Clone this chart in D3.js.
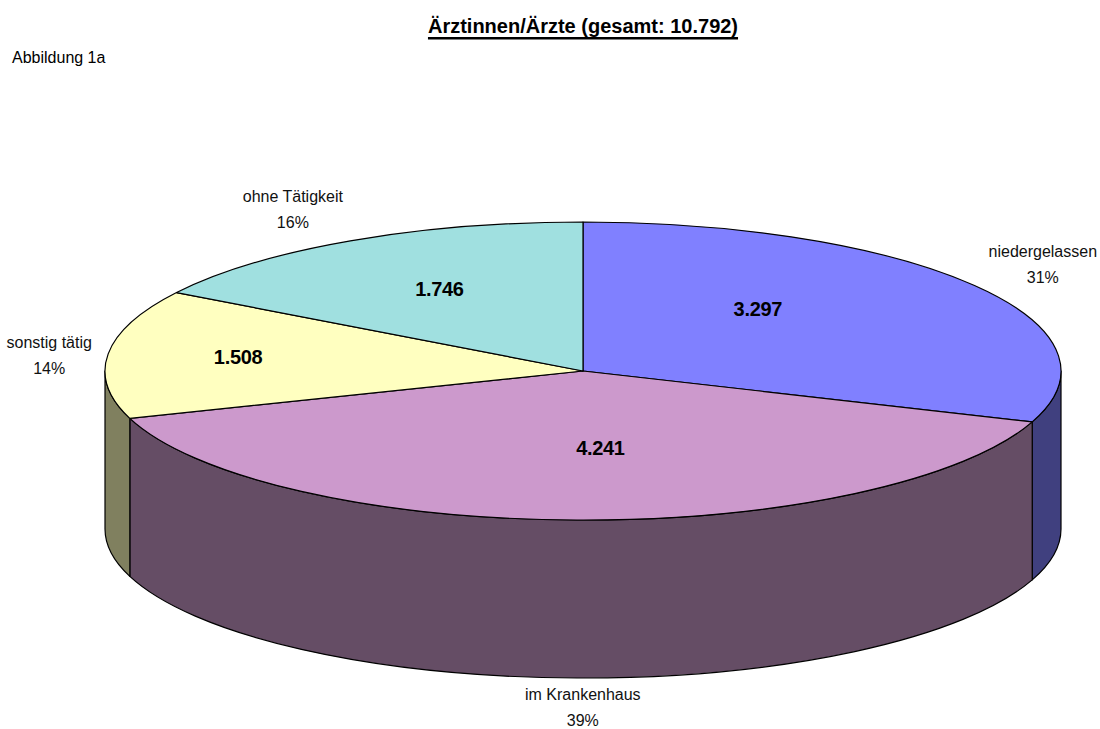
<!DOCTYPE html>
<html>
<head>
<meta charset="utf-8">
<script src="https://cdn.jsdelivr.net/npm/d3@7"></script>
<style>
  body { margin: 0; background: #fff; }
  text { font-family: "Liberation Sans", Arial, sans-serif; }
</style>
</head>
<body>
<div id="chart"></div>
<script>
// Data
var categories = ["niedergelassen", "im Krankenhaus", "sonstig tätig", "ohne Tätigkeit"];
var values = [3297, 4241, 1508, 1746];
var topColors = ["#8080FF", "#CC99CC", "#FFFFC0", "#A0E0E0"];
var sideColors = ["#40407F", "#654D65", "#80805F", "#50706F"];

var svgWidth = 1100;
var svgHeight = 729;

// ellipse geometry of the tilted pie
var cx = 583, cy = 371;
var rx = 478, ry = 149;
var depth = 158;

// label nudges (px) so labels sit where Excel put them
var outerNudge = [[-10, -7], [7, -15], [36, -2], [-11, -6]];
var innerNudge = [[-60, -11], [21, -12], [-60, -4], [-4, -4]];

var de = d3.formatLocale({decimal: ",", thousands: ".", grouping: [3], currency: ["", "€"]});
var fmtNum = de.format(",d");
var fmtPct = de.format(".0%");

var total = d3.sum(values);

var svg = d3.select("#chart")
    .append("svg")
    .attr("width", svgWidth)
    .attr("height", svgHeight);

// Title with a heavy underline
var title = svg.append("text")
    .attr("x", cx)
    .attr("y", 33)
    .attr("text-anchor", "middle")
    .style("font-size", "20px")
    .style("font-weight", "bold")
    .text("Ärztinnen/Ärzte (gesamt: " + fmtNum(total) + ")");

var tb = title.node().getBBox();
svg.append("rect")
    .attr("x", tb.x)
    .attr("y", 37)
    .attr("width", tb.width)
    .attr("height", 2.5)
    .style("fill", "#000");

svg.append("text")
    .attr("x", 12)
    .attr("y", 63)
    .style("font-size", "16px")
    .text("Abbildung 1a");

var pie = d3.pie()
    .sort(null)
    .value(d => d)
    .startAngle(0)
    .endAngle(2 * Math.PI);

var arcs = pie(values);

// point on the top ellipse, angle clockwise from 12 o'clock
function pt(a, dy) {
    return [cx + rx * Math.sin(a), cy - ry * Math.cos(a) + (dy || 0)];
}

function topPath(d) {
    var p0 = pt(d.startAngle), p1 = pt(d.endAngle);
    var large = (d.endAngle - d.startAngle) > Math.PI ? 1 : 0;
    return "M" + cx + "," + cy +
        "L" + p0 + "A" + rx + "," + ry + " 0 " + large + " 1 " + p1 + "Z";
}

function sidePath(d) {
    var s = Math.max(d.startAngle, Math.PI / 2);
    var e = Math.min(d.endAngle, 3 * Math.PI / 2);
    if (s >= e) return null;
    var a = pt(s), b = pt(e), b2 = pt(e, depth), a2 = pt(s, depth);
    return "M" + a + "A" + rx + "," + ry + " 0 0 1 " + b +
        "L" + b2 + "A" + rx + "," + ry + " 0 0 0 " + a2 + "Z";
}

var chartGroup = svg.append("g");

// sides first
chartGroup.selectAll("path.side")
    .data(arcs.filter(d => sidePath(d)))
    .enter()
    .append("path")
    .attr("class", "side")
    .attr("d", sidePath)
    .style("fill", d => sideColors[d.index])
    .style("stroke", "#000")
    .style("stroke-width", 1.2)
    .style("stroke-linejoin", "round");

// tops
chartGroup.selectAll("path.top")
    .data(arcs)
    .enter()
    .append("path")
    .attr("class", "top")
    .attr("d", topPath)
    .style("fill", d => topColors[d.index])
    .style("stroke", "#000")
    .style("stroke-width", 1.2)
    .style("stroke-linejoin", "round");

function mid(d) { return (d.startAngle + d.endAngle) / 2; }

// values inside the slices
chartGroup.selectAll("text.value")
    .data(arcs)
    .enter()
    .append("text")
    .attr("class", "value")
    .attr("x", d => cx + rx * 0.6 * Math.sin(mid(d)) + innerNudge[d.index][0])
    .attr("y", d => cy - ry * 0.6 * Math.cos(mid(d)) + innerNudge[d.index][1])
    .attr("dy", "0.35em")
    .attr("text-anchor", "middle")
    .style("font-size", "20px")
    .style("font-weight", "bold")
    .style("letter-spacing", "-0.3px")
    .text(d => fmtNum(d.data));

// category + percent outside
var outer = chartGroup.selectAll("text.outer")
    .data(arcs)
    .enter()
    .append("text")
    .attr("class", "outer")
    .attr("text-anchor", "middle")
    .style("font-size", "16px")
    .style("fill", "#111")
    .attr("transform", function (d) {
        var m = mid(d);
        var x = cx + rx * 1.2 * Math.sin(m) + outerNudge[d.index][0];
        var y = cy - ry * 1.25 * Math.cos(m) + depth * Math.max(0, -Math.cos(m)) + outerNudge[d.index][1];
        return "translate(" + x + "," + y + ")";
    });

outer.append("tspan")
    .attr("x", 0)
    .attr("y", 0)
    .text(d => categories[d.index]);

outer.append("tspan")
    .attr("x", 0)
    .attr("y", 26)
    .text(d => fmtPct(d.data / total));
</script>
</body>
</html>
